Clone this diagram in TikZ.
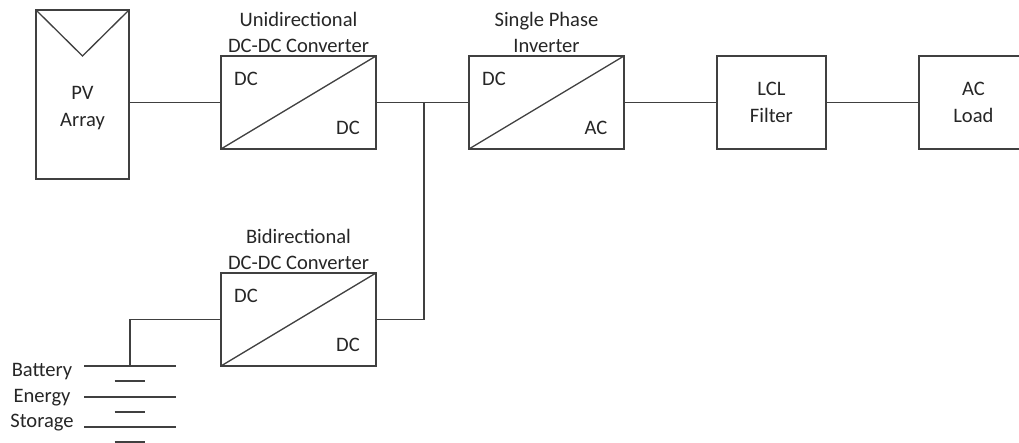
\documentclass[tikz,border=0pt]{standalone}
\usepackage{fontspec}
\setmainfont{Carlito}
\usetikzlibrary{positioning}

\begin{document}
\begin{tikzpicture}[x=0.02cm, y=-0.02cm, node distance=1.86cm, 
    line width=0.75pt, color={black!75},
    block/.style={rectangle, draw, minimum width=3.1cm, minimum height=1.86cm, inner sep=0pt, outer sep=0pt},
    tag/.style={text=black!85, font=\fontsize{11.7pt}{15pt}\selectfont, align=center, inner sep=0pt}]

    \useasboundingbox (0,0) rectangle (1019,443);
    \clip (0,0) rectangle (1019,443);

    %Nodes
    \node[block, minimum width=1.86cm, minimum height=3.38cm] (pv) at (82.5,94.5) {};
    \coordinate (pv_tip) at (82.5,56);
    \node[tag] (pv_text) at (82.5,108) {PV\\Array};
    \node[block] (unidc) at (298.5,102.5) {};
    \node[block] (invt) [right=of unidc] {};
    \node[block, minimum width=2.18cm, tag] (lcl) [right=of invt] {LCL\\Filter};
    \node[block, minimum width=2.18cm, tag] (load) [right=of lcl] {AC\\Load};
    \node[block] (bidc) at (298.5,319.5) {};

    \node[tag] (unidc_name) [above=1.5pt of unidc] {Unidirectional\\DC-DC Converter};
    \node[tag] (invt_name) [above=1.5pt of invt] {Single Phase\\Inverter};
    \node[tag] (bidc_name) [above=1.5pt of bidc] {Bidirectional\\DC-DC Converter};

    \coordinate (junc) at (424,102.5);

    % Battery plates
    \foreach \i/\ypos in {1/366, 2/397, 3/427} {
        \coordinate (long\i) at (130,\ypos);
        \draw ([xshift=-0.92cm]long\i) -- ([xshift=0.92cm]long\i);
    }
    \foreach \i/\ypos in {1/381, 2/412, 3/442} {
        \coordinate (short\i) at (130,\ypos);
        \draw ([xshift=-0.31cm]short\i) -- ([xshift=0.31cm]short\i);
    }
    \node[tag] (batt_a) at (42,372) {Battery};
    \node[tag] (batt_b) at (42,398) {Energy};
    \node[tag] (batt_c) at (42,423) {Storage};

    % Converter labels
    \foreach \conv/\lin/\lout in {unidc/DC/DC, invt/DC/AC, bidc/DC/DC} {
        \draw (\conv.south west) -- (\conv.north east);
        \node[tag, xshift=0.5cm, yshift=-0.46cm] (\conv_in) at (\conv.north west) {\lin};
        \node[tag, xshift=-0.56cm, yshift=0.42cm] (\conv_out) at (\conv.south east) {\lout};
    }

    % Edges
    \draw (pv.north west) -- (pv_tip) -- (pv.north east);
    \draw (pv.east |- unidc.west) -- (unidc.west);
    \draw (unidc.east) -- (invt.west);
    \draw (invt.east) -- (lcl.west);
    \draw (lcl.east) -- (load.west);
    \draw (bidc.east) -| (junc);
    \draw (bidc.west) -| (long1);

\end{tikzpicture}
\end{document}
